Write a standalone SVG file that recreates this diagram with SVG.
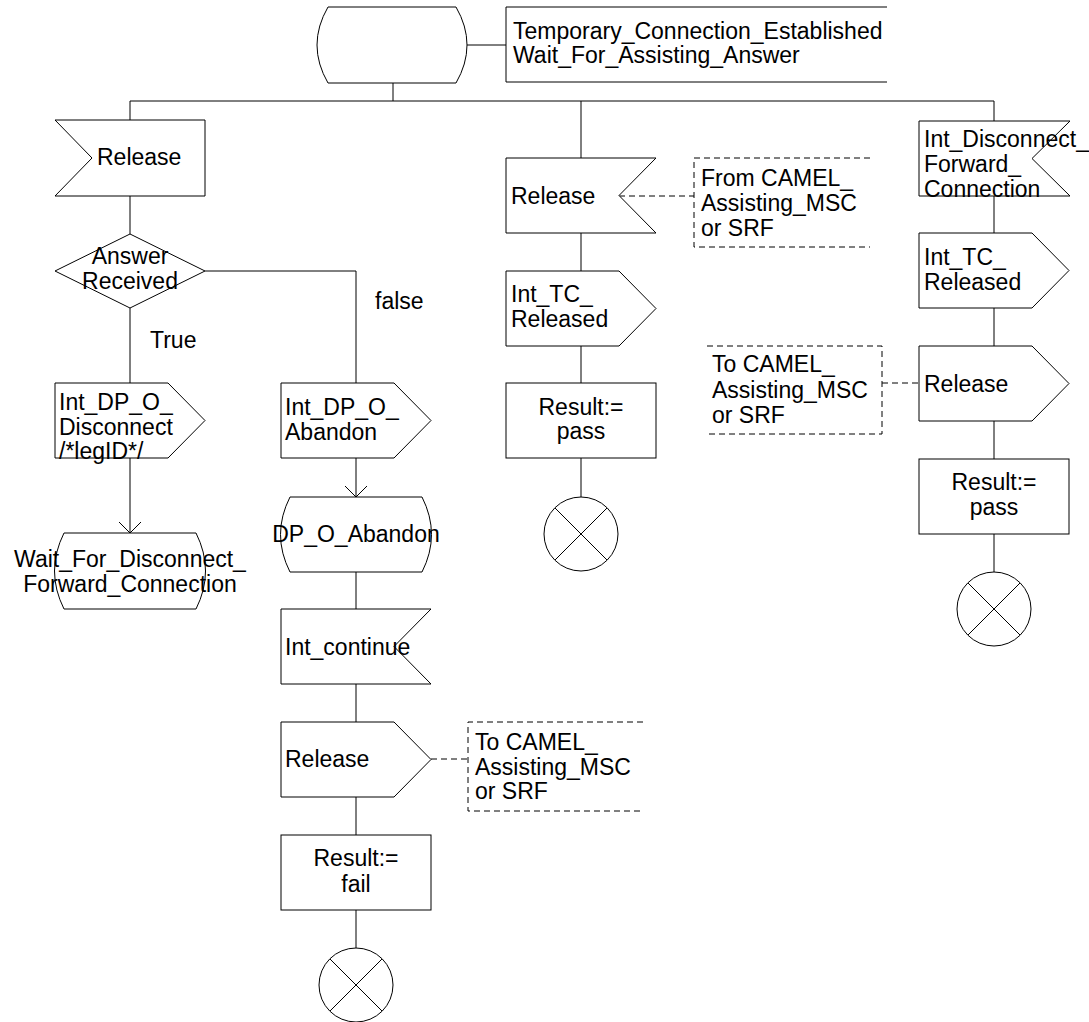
<svg xmlns="http://www.w3.org/2000/svg" width="1089" height="1022" viewBox="0 0 1089 1022">
<style>
.s{fill:#fff;stroke:#000;stroke-width:1}
.l{fill:none;stroke:#000;stroke-width:1}
.d{fill:none;stroke:#000;stroke-width:1;stroke-dasharray:6,4}
text{font-family:"Liberation Sans",Arial,sans-serif;font-size:23px;fill:#000}
.c{text-anchor:middle}
</style>
<defs>
<marker id="arr" markerUnits="userSpaceOnUse" viewBox="-12 -12 24 24" markerWidth="24" markerHeight="24" refX="0" refY="0" orient="auto">
<path d="M-11,-11 L0,0 L-11,11" fill="none" stroke="#000" stroke-width="1"/>
</marker>
</defs>
<rect width="1089" height="1022" fill="#fff"/>
<g id="connectors">
<path class="l" d="M467,45 H506"/>
<path class="l" d="M393,83 V101"/>
<path class="l" d="M130,120 V101 H994 V121"/>
<path class="l" d="M581,101 V158"/>
<path class="l" d="M130,196 V234"/>
<path class="l" d="M130,308 V383"/>
<path class="l" d="M205,271 H356 V383"/>
<path class="l" d="M130,458 V533" marker-end="url(#arr)"/>
<path class="l" d="M356,458 V497" marker-end="url(#arr)"/>
<path class="l" d="M356,572 V609"/>
<path class="l" d="M356,684 V722"/>
<path class="l" d="M356,797 V835"/>
<path class="l" d="M356,910 V948"/>
<path class="l" d="M581,233 V271"/>
<path class="l" d="M581,346 V383"/>
<path class="l" d="M581,458 V497"/>
<path class="l" d="M994,196 V233"/>
<path class="l" d="M994,308 V346"/>
<path class="l" d="M994,421 V459"/>
<path class="l" d="M994,534 V572"/>
<path class="d" d="M619,196 H694"/>
<path class="d" d="M882,383 H919"/>
<path class="d" d="M431,759 H468"/>
<text x="150" y="348">True</text>
<text x="375" y="309">false</text>
</g>
<g id="start_state">
<path class="s" d="M328,7 H456 Q478,45 456,83 H328 Q306,45 328,7 Z"/>
</g>
<g id="state_label">
<path class="l" d="M887,7 H506 V82 H887"/>
<text x="513" y="39">Temporary_Connection_Established</text>
<text x="513" y="63">Wait_For_Assisting_Answer</text>
</g>
<g id="release_in_left">
<path class="s" d="M55,120 H205 V196 H55 L92,158 Z"/>
<text x="97" y="165">Release</text>
</g>
<g id="answer_received">
<path class="s" d="M130,234 L205,271 L130,308 L55,271 Z"/>
<text class="c" x="130" y="264">Answer</text>
<text class="c" x="130" y="289">Received</text>
</g>
<g id="int_dp_o_disconnect">
<path class="s" d="M55,383 H168 L205,420.5 L168,458 H55 Z"/>
<text x="59" y="410">Int_DP_O_</text>
<text x="59" y="435">Disconnect</text>
<text x="59" y="459">/*legID*/</text>
</g>
<g id="wait_for_disconnect">
<path class="s" d="M64,533 H196 Q215,571 196,609 H64 Q45,571 64,533 Z"/>
<text class="c" x="130" y="567">Wait_For_Disconnect_</text>
<text class="c" x="130" y="592">Forward_Connection</text>
</g>
<g id="int_dp_o_abandon">
<path class="s" d="M281,383 H394 L431,420.5 L394,458 H281 Z"/>
<text x="285" y="415">Int_DP_O_</text>
<text x="285" y="440">Abandon</text>
</g>
<g id="dp_o_abandon">
<path class="s" d="M290,497 H422 Q441,534.5 422,572 H290 Q271,534.5 290,497 Z"/>
<text class="c" x="356" y="542">DP_O_Abandon</text>
</g>
<g id="int_continue">
<path class="s" d="M281,609 H431 L394,646.5 L431,684 H281 Z"/>
<text x="285" y="655">Int_continue</text>
</g>
<g id="release_out_mid">
<path class="s" d="M281,722 H394 L431,759.5 L394,797 H281 Z"/>
<text x="285" y="767">Release</text>
</g>
<g id="comment_bottom">
<path class="d" d="M643,722 H468 V811 H643"/>
<text x="475" y="750">To CAMEL_</text>
<text x="475" y="775">Assisting_MSC</text>
<text x="475" y="799">or SRF</text>
</g>
<g id="result_fail">
<rect class="s" x="281" y="835" width="150" height="75"/>
<text class="c" x="356" y="866">Result:=</text>
<text class="c" x="356" y="892">fail</text>
</g>
<g id="stop_mid">
<circle class="s" cx="356" cy="985" r="37"/>
<path class="l" d="M330,959 L382,1011 M382,959 L330,1011"/>
</g>
<g id="release_in_mid">
<path class="s" d="M506,158 H656 L619,195.5 L656,233 H506 Z"/>
<text x="511" y="204">Release</text>
</g>
<g id="comment_from">
<path class="d" d="M870,158 H694 V247 H870"/>
<text x="701" y="186">From CAMEL_</text>
<text x="701" y="211">Assisting_MSC</text>
<text x="701" y="236">or SRF</text>
</g>
<g id="int_tc_released_mid">
<path class="s" d="M506,271 H619 L656,308.5 L619,346 H506 Z"/>
<text x="511" y="302">Int_TC_</text>
<text x="511" y="327">Released</text>
</g>
<g id="result_pass_mid">
<rect class="s" x="506" y="383" width="150" height="75"/>
<text class="c" x="581" y="415">Result:=</text>
<text class="c" x="581" y="439">pass</text>
</g>
<g id="stop_right_mid">
<circle class="s" cx="581" cy="534" r="37"/>
<path class="l" d="M555,508 L607,560 M607,508 L555,560"/>
</g>
<g id="int_disconnect_forward">
<path class="s" d="M919,121 H1070 L1032,158.5 L1070,196 H919 Z"/>
<text x="924" y="147">Int_Disconnect_</text>
<text x="924" y="172">Forward_</text>
<text x="924" y="197">Connection</text>
</g>
<g id="int_tc_released_right">
<path class="s" d="M919,233 H1032 L1069,270.5 L1032,308 H919 Z"/>
<text x="924" y="265">Int_TC_</text>
<text x="924" y="290">Released</text>
</g>
<g id="release_out_right">
<path class="s" d="M919,346 H1032 L1069,383.5 L1032,421 H919 Z"/>
<text x="924" y="392">Release</text>
</g>
<g id="comment_to_right">
<path class="d" d="M707,346 H882 V434 H707"/>
<text x="712" y="372">To CAMEL_</text>
<text x="712" y="398">Assisting_MSC</text>
<text x="712" y="423">or SRF</text>
</g>
<g id="result_pass_right">
<rect class="s" x="919" y="459" width="150" height="75"/>
<text class="c" x="994" y="490">Result:=</text>
<text class="c" x="994" y="515">pass</text>
</g>
<g id="stop_right">
<circle class="s" cx="994" cy="609" r="37"/>
<path class="l" d="M968,583 L1020,635 M1020,583 L968,635"/>
</g>
</svg>
